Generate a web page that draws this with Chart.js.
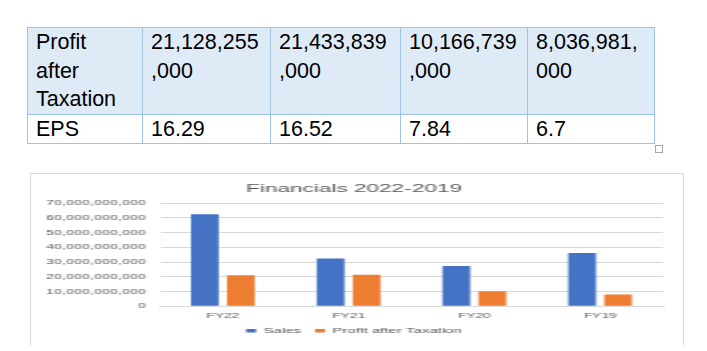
<!DOCTYPE html>
<html>
<head>
<meta charset="utf-8">
<script src="https://cdn.jsdelivr.net/npm/chart.js@4"></script>
<style>
  body { margin: 0; background: #fff; width: 707px; height: 351px; position: relative; overflow: hidden; }
  #tabela {
    position: absolute; left: 27px; top: 27px;
    border-collapse: collapse; table-layout: fixed;
    font-family: "Liberation Sans", Arial, sans-serif; font-size: 21.5px; line-height: 28.5px; color: #000;
  }
  #tabela td { border: 1px solid #9dc3e6; padding: 0 8px; vertical-align: top; white-space: nowrap; }
  #tabela tr.cabecalho td { background: #deeaf6; }
  #alca { position: absolute; left: 655px; top: 145px; width: 6px; height: 6px; border: 1px solid #a6a6a6; background: #fff; }
  #caixa { position: absolute; left: 30px; top: 173px; width: 652px; height: 171px; border: 1px solid #d9d9d9; border-bottom: none; }
  #grafico { display: block; width: 652px; height: 171px; }
</style>
</head>
<body>
<table id="tabela">
  <colgroup>
    <col style="width:115px"><col style="width:128px"><col style="width:130px"><col style="width:127px"><col style="width:127px">
  </colgroup>
  <tr class="cabecalho" id="linhaLucro"></tr>
  <tr id="linhaEps"></tr>
</table>
<div id="alca"></div>
<div id="caixa">
  <!-- desenhado com metade da largura e esticado 2x, como a imagem original -->
  <canvas id="grafico" width="326" height="171" style="width:652px;height:171px"></canvas>
</div>
<script>
const categorias = ['FY22', 'FY21', 'FY20', 'FY19'];
const vendas = [62600000000, 32400000000, 27400000000, 36200000000];
const lucroAposImposto = [21128255000, 21433839000, 10166739000, 8036981000];
const eps = [16.29, 16.52, 7.84, 6.7];
const yMax = 70000000000;
const yPasso = 10000000000;

// tabela de cima (quebra de linha igual ao documento)
const fmt = v => v.toLocaleString('en-US');
document.getElementById('linhaLucro').innerHTML =
  '<td>Profit<br>after<br>Taxation</td>' +
  lucroAposImposto.map(v => {
    const s = fmt(v);
    return '<td>' + s.slice(0, 10) + '<br>' + s.slice(10) + '</td>';
  }).join('');
document.getElementById('linhaEps').innerHTML =
  '<td>EPS</td>' + eps.map(v => '<td>' + v + '</td>').join('');

const cinza = '#595959';
const fonte = "'Liberation Sans', Arial, sans-serif";

const financasChart = new Chart(
  document.getElementById('grafico'),
  {
    type: 'bar',
    data: {
      labels: categorias,
      datasets: [
        { label: 'Sales', data: vendas, backgroundColor: '#4472c4' },
        { label: 'Profit after Taxation', data: lucroAposImposto, backgroundColor: '#ed7d31' }
      ]
    },
    options: {
      responsive: false,
      devicePixelRatio: 1,
      animation: false,
      categoryPercentage: 0.573,
      barPercentage: 0.77,
      layout: { padding: { left: 7, right: 10, top: 0, bottom: 0.4 } },
      plugins: {
        title: {
          display: true,
          text: 'Financials 2022-2019',
          color: cinza,
          font: { family: fonte, size: 11.3, weight: 'normal' },
          padding: { top: 8.5, bottom: 7.2 }
        },
        legend: {
          position: 'bottom',
          labels: {
            color: cinza,
            font: { family: fonte, size: 7.5 },
            boxWidth: 5,
            boxHeight: 3.5,
            padding: 7
          }
        },
        tooltip: { enabled: false }
      },
      scales: {
        x: {
          afterFit: (escala) => { escala.height = 13.8; },
          grid: { display: false, drawTicks: false },
          border: { color: '#d9d9d9' },
          ticks: { color: cinza, font: { family: fonte, size: 6.8 }, padding: 5.6 }
        },
        y: {
          min: 0,
          max: yMax,
          afterFit: (escala) => { escala.width = 57.5; },
          border: { display: false },
          grid: { color: '#d9d9d9', drawTicks: false },
          ticks: {
            stepSize: yPasso,
            color: cinza,
            font: { family: fonte, size: 7.2 },
            padding: 7,
            callback: v => fmt(v)
          }
        }
      }
    }
  }
);
</script>
</body>
</html>
